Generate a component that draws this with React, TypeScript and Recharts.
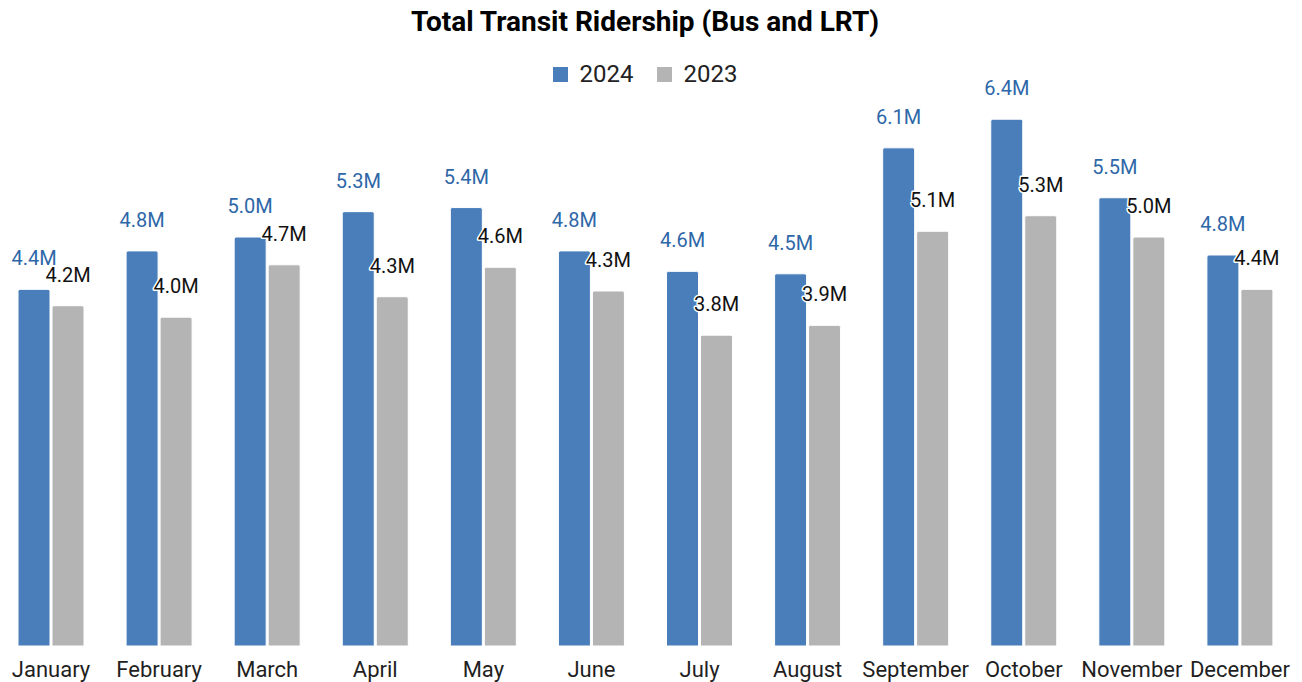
import React from "react";
import { BarChart, Bar, XAxis, YAxis, LabelList } from "recharts";

const months = [
  "January", "February", "March", "April", "May", "June",
  "July", "August", "September", "October", "November", "December",
];
// ridership in millions
const riders2024 = [4.36, 4.83, 5.0, 5.31, 5.36, 4.83, 4.58, 4.55, 6.09, 6.44, 5.48, 4.78];
const riders2023 = [4.16, 4.02, 4.66, 4.27, 4.63, 4.34, 3.8, 3.92, 5.07, 5.26, 5.0, 4.36];

const BLUE = "#4a7ebb";
const GRAY = "#b4b4b4";
const FONT = "Roboto, sans-serif";

const chartData = months.map((month, i) => ({
  month,
  y2024: riders2024[i],
  y2023: riders2023[i],
}));

const makeLabel = (color: string) => (props: any) => {
  const { x, y, width, value } = props;
  return (
    <text
      x={x + width / 2}
      y={y - 24}
      textAnchor="middle"
      fontFamily={FONT}
      fontSize={20}
      fill={color}
      stroke="#fff"
      strokeWidth={3}
      strokeLinejoin="round"
      paintOrder="stroke"
    >
      {`${Number(value).toFixed(1)}M`}
    </text>
  );
};

const App: React.FC = () => {
  return (
    <div style={{ position: "absolute", left: -3.5, top: 0, width: 1297, height: 682, fontFamily: FONT }}>
      <div
        style={{
          position: "absolute",
          top: 8,
          width: 1297,
          textAlign: "center",
          fontSize: 28,
          lineHeight: "28px",
          fontWeight: 700,
          color: "#000",
        }}
      >
        Total Transit Ridership (Bus and LRT)
      </div>
      <div
        style={{
          position: "absolute",
          top: 60,
          width: 1297,
          display: "flex",
          justifyContent: "center",
          alignItems: "center",
          fontSize: 24,
          lineHeight: "28px",
          color: "#222",
        }}
      >
        <span style={{ width: 15, height: 15, background: BLUE, marginRight: 12 }} />
        <span style={{ marginRight: 23 }}>2024</span>
        <span style={{ width: 15, height: 15, background: GRAY, marginRight: 12 }} />
        <span>2023</span>
      </div>
      <BarChart
        width={1297}
        height={682}
        data={chartData}
        margin={{ top: 73.4, right: 0, bottom: 0, left: 0 }}
        barSize={32}
        barGap={2}
      >
        <XAxis
          dataKey="month"
          height={36}
          axisLine={false}
          tickLine={false}
          tickMargin={9}
          interval={0}
          tick={{ fill: "#1f1f1f", fontSize: 22, fontFamily: FONT }}
        />
        <YAxis hide domain={[0, 7]} />
        <Bar dataKey="y2024" fill={BLUE} stroke="#fff" strokeWidth={1} radius={[2, 2, 0, 0]} isAnimationActive={false}>
          <LabelList dataKey="y2024" content={makeLabel("#2e67a8")} />
        </Bar>
        <Bar dataKey="y2023" fill={GRAY} stroke="#fff" strokeWidth={1} radius={[2, 2, 0, 0]} isAnimationActive={false}>
          <LabelList dataKey="y2023" content={makeLabel("#111")} />
        </Bar>
      </BarChart>
    </div>
  );
};

export default App;
